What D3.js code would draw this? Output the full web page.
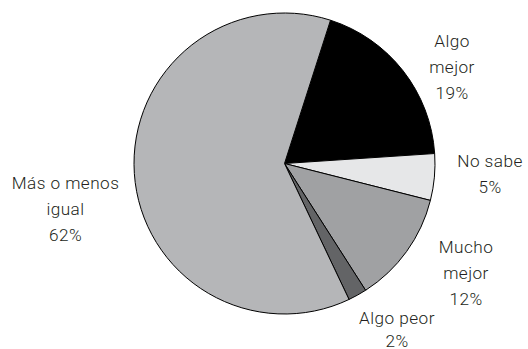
<!DOCTYPE html>
<html>
<head>
<meta charset="utf-8">
<script src="https://cdn.jsdelivr.net/npm/d3@7"></script>
<style>
  body { margin: 0; background: #fff; }
  text { font-family: Roboto, "Liberation Sans", sans-serif; font-weight: 300; fill: #231f20; letter-spacing: 0.45px; }
</style>
</head>
<body>
<svg id="pie" width="528" height="349"></svg>
<script>
// categories in clockwise order, starting at the black slice
const categories = ['Algo\nmejor', 'No sabe', 'Mucho\nmejor', 'Algo peor', 'Más o menos\nigual'];
const values = [19, 5, 12, 2, 62];
const colors = ['#000000', '#e6e7e8', '#a0a1a3', '#636466', '#b5b6b8'];

const svg = d3.select('svg#pie');
const cx = 284.5, cy = 163.5, radius = 150.5;
const startDeg = 17.8;

// where each label block is centred (x) and where its first baseline sits (y)
const labelPos = [
    {x: 452, y: 46.5},
    {x: 490, y: 167},
    {x: 466, y: 253},
    {x: 397, y: 324},
    {x: 65.5, y: 189}
];
const lineGap = 26;

const pie = d3.pie()
    .sort(null)
    .value(d => d)
    .startAngle(startDeg * Math.PI / 180)
    .endAngle(startDeg * Math.PI / 180 + 2 * Math.PI);

const arc = d3.arc().innerRadius(0).outerRadius(radius);

const g = svg.append('g')
    .attr('transform', `translate(${cx}, ${cy})`);

g.selectAll('path').data(pie(values))
    .enter().append('path')
    .attr('d', arc)
    .attr('fill', (d, i) => colors[i])
    .attr('stroke', '#000')
    .attr('stroke-width', 1)
    .attr('stroke-linejoin', 'round');

//labels
const labels = svg.selectAll('text.lbl').data(categories)
    .enter().append('text')
    .attr('class', 'lbl')
    .attr('text-anchor', 'middle')
    .attr('font-size', 17.2);

labels.each(function (d, i) {
    const lines = d.split('\n').concat([values[i] + '%']);
    const t = d3.select(this);
    lines.forEach((ln, k) => {
        t.append('tspan')
            .attr('x', labelPos[i].x)
            .attr('y', labelPos[i].y + k * (i === 3 ? 22.5 : lineGap))
            .text(ln);
    });
});
</script>
</body>
</html>
